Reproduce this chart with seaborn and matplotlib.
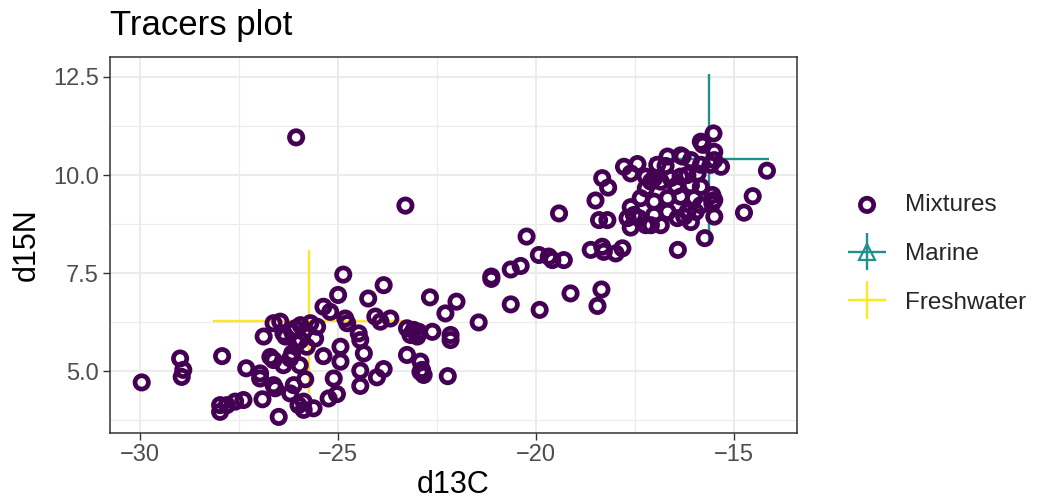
import matplotlib
matplotlib.use("Agg")
import matplotlib.pyplot as plt
import numpy as np
import pandas as pd
import seaborn as sns
from matplotlib.container import ErrorbarContainer
from matplotlib.legend_handler import HandlerErrorbar
from matplotlib.ticker import MultipleLocator, FormatStrFormatter

# Mixture isotope values (d13C, d15N)
mix_d13c = [
    -29.96, -28.99, -28.91, -28.95, -27.93, -27.98, -27.98, -27.81, -27.60, -27.39,
    -27.32, -26.97, -26.97, -26.91, -26.88, -26.50, -26.63, -26.59, -26.71, -26.63,
    -26.38, -26.21, -26.63, -26.46, -26.38, -26.16, -26.16, -26.04, -26.00, -25.97,
    -25.95, -25.70, -25.53, -25.58, -26.33, -25.79, -25.83, -25.87, -25.87, -25.62,
    -25.37, -25.20, -25.00, -24.87, -24.82, -24.77, -24.94, -25.37, -24.94, -25.11,
    -25.03, -25.24, -24.48, -24.44, -24.35, -24.44, -24.44, -24.24, -23.85, -24.06,
    -23.93, -23.68, -23.85, -24.02, -23.26, -23.09, -22.96, -23.17, -23.00, -22.62,
    -23.26, -22.92, -22.88, -22.92, -22.84, -22.68, -22.01, -22.29, -22.16, -22.16,
    -22.23, -21.45, -26.06, -23.30, -26.08, -25.95, -26.21, -26.12,
    -21.13, -21.13, -20.64, -20.39, -20.24, -19.93, -19.68, -19.59, -19.30, -19.42,
    -20.64, -19.91, -19.13, -18.35, -18.45, -18.62, -18.33, -18.29, -17.99, -17.82,
    -18.50, -18.33, -18.18, -18.41, -18.20, -17.78, -17.61, -17.44, -17.61, -17.53,
    -17.69, -17.40, -17.61, -17.23, -17.23, -17.23, -17.02, -16.94, -16.68, -16.35,
    -17.10, -16.85, -16.60, -16.35, -17.02, -16.68, -16.35, -17.02, -16.68, -16.43,
    -17.10, -16.42, -15.74, -15.50, -14.75, -14.53, -14.17, -15.52, -15.84, -15.79,
    -15.50, -16.30, -15.84, -15.59, -15.33, -16.18, -15.92, -16.09, -15.84, -15.55,
    -15.50, -15.55, -16.01, -15.84, -16.18, -15.97, -16.26, -16.73, -16.47, -16.09,
    -16.85, -17.36, -15.50, -16.09,
]
mix_d15n = [
    4.71, 5.32, 5.03, 4.85, 5.38, 4.13, 3.96, 4.13, 4.22, 4.26,
    5.07, 4.94, 4.81, 4.28, 5.88, 3.83, 4.64, 4.56, 5.36, 5.28,
    5.15, 4.43, 6.22, 6.26, 5.96, 6.00, 5.45, 5.71, 4.13, 5.15,
    6.17, 6.22, 6.13, 5.83, 5.88, 5.62, 4.79, 4.22, 4.01, 4.05,
    6.64, 6.51, 6.94, 7.46, 6.34, 6.22, 5.62, 5.38, 5.24, 4.81,
    4.41, 4.30, 5.96, 5.79, 5.45, 5.01, 4.62, 6.85, 7.19, 6.39,
    6.26, 6.34, 5.05, 4.84, 6.09, 6.05, 6.00, 5.92, 5.88, 6.00,
    5.41, 5.24, 5.03, 4.98, 4.90, 6.88, 6.77, 6.47, 5.92, 5.79,
    4.87, 6.24, 10.96, 9.22, 6.09, 5.79, 5.32, 4.64,
    7.41, 7.35, 7.59, 7.68, 8.43, 7.96, 7.92, 7.83, 7.83, 9.02,
    6.70, 6.56, 6.98, 7.08, 6.66, 8.09, 8.17, 8.04, 8.00, 8.13,
    9.35, 9.92, 9.68, 8.85, 8.85, 10.21, 10.04, 10.28, 9.18, 8.98,
    8.90, 8.90, 8.66, 8.72, 9.96, 9.66, 9.92, 10.26, 10.47, 10.50,
    9.83, 9.83, 9.92, 9.96, 9.32, 9.41, 9.45, 8.98, 9.06, 8.90,
    8.72, 8.09, 8.39, 8.94, 9.04, 9.46, 10.11, 11.06, 10.85, 10.77,
    10.59, 10.47, 10.26, 10.26, 10.21, 10.00, 10.04, 9.74, 9.70, 9.49,
    9.36, 9.28, 9.41, 9.23, 9.06, 9.06, 8.94, 10.23, 9.72, 8.80,
    8.72, 9.41, 10.38, 10.38,
]

# Source means and standard deviations
source_names = ["Marine", "Freshwater"]
source_d13c_mean = [-15.63, -25.73]
source_d13c_sd = [1.50, 2.43]
source_d15n_mean = [10.40, 6.27]
source_d15n_sd = [2.17, 1.83]

mix_color = "#440154"
source_colors = ["#21908C", "#FDE725"]
source_markers = ["^", "+"]

sns.set_theme(style="whitegrid")
plt.rcParams["font.family"] = ["Liberation Sans", "DejaVu Sans"]

fig = plt.figure(figsize=(10.37, 5.04), dpi=100)
ax = fig.add_axes([0.1061, 0.1409, 0.7686 - 0.1061, 0.8869 - 0.1409])

mix = pd.DataFrame({"d13C": mix_d13c, "d15N": mix_d15n})

# Source mean +/- 1 SD crosshairs, drawn underneath the mixtures
for name, mx, sx, my, sy, col, mk in zip(source_names, source_d13c_mean, source_d13c_sd,
                                         source_d15n_mean, source_d15n_sd,
                                         source_colors, source_markers):
    ax.errorbar(mx, my, xerr=sx, yerr=sy, fmt=mk, color=col, ecolor=col,
                elinewidth=1.7, capsize=0, markersize=12, markeredgewidth=1.6,
                markerfacecolor="none", label=name, zorder=2)

sns.scatterplot(data=mix, x="d13C", y="d15N", ax=ax, marker="o", s=92,
                facecolors="none", edgecolor=mix_color, linewidth=3.4,
                label="Mixtures", zorder=3)

ax.set_xlim(-30.76, -13.41)
ax.set_ylim(3.42, 13.01)
ax.xaxis.set_major_locator(MultipleLocator(5))
ax.xaxis.set_minor_locator(MultipleLocator(2.5))
ax.yaxis.set_major_locator(MultipleLocator(2.5))
ax.yaxis.set_minor_locator(MultipleLocator(1.25))
ax.yaxis.set_major_formatter(FormatStrFormatter("%.1f"))

ax.set_facecolor("white")
ax.grid(which="major", color="#EBEBEB", linewidth=1.4)
ax.grid(which="minor", color="#EBEBEB", linewidth=0.8)
ax.set_axisbelow(True)
for sp in ax.spines.values():
    sp.set_visible(True)
    sp.set_color("#333333")
    sp.set_linewidth(1.1)

ax.tick_params(which="major", axis="both", length=5, width=1.0, color="#333333",
               labelcolor="#4D4D4D", labelsize=17, bottom=True, left=True)
ax.tick_params(axis="x", pad=3)
ax.tick_params(axis="y", pad=3)
ax.tick_params(which="minor", length=0)

ax.set_xlabel("d13C", fontsize=22, color="black", labelpad=3)
ax.set_ylabel("d15N", fontsize=22, color="black", labelpad=8)
ax.set_title("Tracers plot", loc="left", fontsize=25, color="black", pad=16)

handles, labels = ax.get_legend_handles_labels()
order = [labels.index("Mixtures"), labels.index("Marine"), labels.index("Freshwater")]
handles = [handles[i] for i in order]
labels = [labels[i] for i in order]
if ax.get_legend() is not None:
    ax.get_legend().remove()

leg = fig.legend(handles, labels, loc="center left", bbox_to_anchor=(0.8177, 0.496),
                 frameon=False, fontsize=17.5, handlelength=1.57, handletextpad=0.78,
                 labelspacing=1.1, borderpad=0, borderaxespad=0,
                 handler_map={ErrorbarContainer: HandlerErrorbar(xerr_size=0.78)})

fig.savefig("out.png", dpi=100)
